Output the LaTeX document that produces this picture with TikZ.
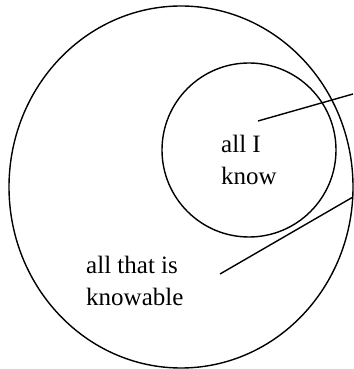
\documentclass[tikz,border=0pt]{standalone}
\usepackage{fontspec}
\setmainfont{Liberation Serif}
\usetikzlibrary{positioning, shapes.geometric}

\begin{document}
\begin{tikzpicture}[
    x=1pt, y=1pt,
    set/.style={
        ellipse,
        draw=black,
        line width=1.4pt,
        inner sep=0pt
    },
    settext/.style={
        font=\fontsize{25}{31.5}\selectfont,
        align=left,
        inner sep=0pt
    },
    pointer/.style={line width=1.4pt}
]
\useasboundingbox (0,0) rectangle (353,369);

% Sets
\node[set, minimum width=344pt, minimum height=362pt] (knowable) at (181,182) {};
\node[set, circle, minimum size=174pt] (known) at (249,219) {};

% Labels
\node[settext, anchor=west] (knownlbl) at (221,209) {all I\\know};
\node[settext, anchor=west] (knowablelbl) at (86,88) {all that is\\knowable};

% Pointers
\coordinate (knownpt) at (258,248);
\coordinate (knowablept) at (220,95);
\coordinate (knownend) at (353,275);
\coordinate (knowableend) at (353,172);

\draw[pointer] (knownpt) -- (knownend);
\draw[pointer] (knowablept) -- (knowableend);
\end{tikzpicture}
\end{document}
